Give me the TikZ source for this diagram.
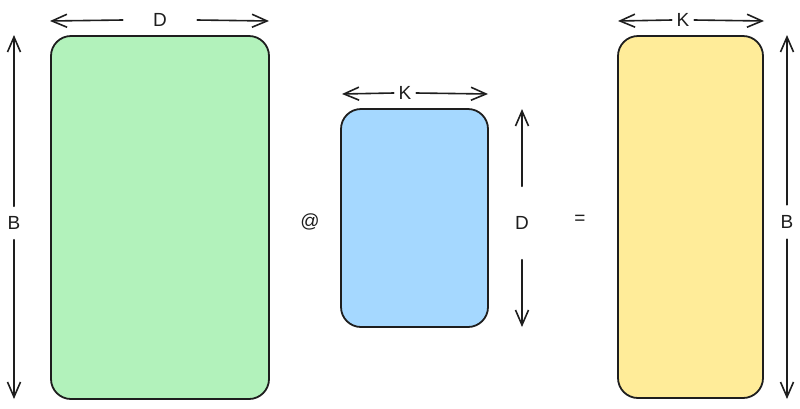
\documentclass[tikz,border=0pt]{standalone}
\usepackage{fontspec}
\setmainfont{Liberation Sans}
\usetikzlibrary{arrows.meta}
\definecolor{ink}{HTML}{1E1E1E}
\definecolor{greenf}{HTML}{B2F2BB}
\definecolor{bluef}{HTML}{A5D8FF}
\definecolor{yellowf}{HTML}{FFEC99}
\begin{document}
\begin{tikzpicture}[x=1pt,y=-1pt,
  mat/.style={draw=ink, line width=1.8pt, rounded corners=20pt, inner sep=0pt},
  dim/.style={draw=ink, line width=1.6pt, line cap=round, -{Straight Barb[length=15pt,width=13pt,line width=1.6pt]}},
  lab/.style={font=\fontsize{19}{19}\selectfont, text=ink, inner sep=0pt}]
\useasboundingbox (0,0) rectangle (800,408);
% matrices
\node[mat, fill=greenf, minimum width=218pt, minimum height=363pt] (A) at (160,217.5) {};
\node[mat, fill=bluef, minimum width=147pt, minimum height=218pt] (W) at (414.5,218) {};
\node[mat, fill=yellowf, minimum width=145pt, minimum height=362pt] (C) at (690.5,217) {};
% operators
\node[lab] (at) at (310,222) {@};
\node[lab] (eq) at (580,220) {=};
% D above A
\node[lab, minimum width=74pt] (DA) at (160,20) {D};
\coordinate (DAl) at (50,21);
\coordinate (DAr) at (269,21);
\draw[dim] (DA.west) -- (DAl);
\draw[dim] (DA.east) -- (DAr);
% B left of A
\node[lab, minimum height=33pt] (BA) at (14,223) {B};
\coordinate (BAt) at (14,35);
\coordinate (BAb) at (14,399);
\draw[dim] (BA.north) -- (BAt);
\draw[dim] (BA.south) -- (BAb);
% K above W
\node[lab, minimum width=22pt] (KW) at (405,93) {K};
\coordinate (KWl) at (342,94);
\coordinate (KWr) at (488,94);
\draw[dim] (KW.west) -- (KWl);
\draw[dim] (KW.east) -- (KWr);
% D right of W
\node[lab, minimum height=73pt] (DW) at (522,223) {D};
\coordinate (DWt) at (522,109);
\coordinate (DWb) at (522,327);
\draw[dim] (DW.north) -- (DWt);
\draw[dim] (DW.south) -- (DWb);
% K above C
\node[lab, minimum width=22pt] (KC) at (683,20) {K};
\coordinate (KCl) at (618,21);
\coordinate (KCr) at (764,21);
\draw[dim] (KC.west) -- (KCl);
\draw[dim] (KC.east) -- (KCr);
% B right of C
\node[lab, minimum height=34pt] (BC) at (787,222) {B};
\coordinate (BCt) at (787,35);
\coordinate (BCb) at (787,399);
\draw[dim] (BC.north) -- (BCt);
\draw[dim] (BC.south) -- (BCb);
\end{tikzpicture}
\end{document}
